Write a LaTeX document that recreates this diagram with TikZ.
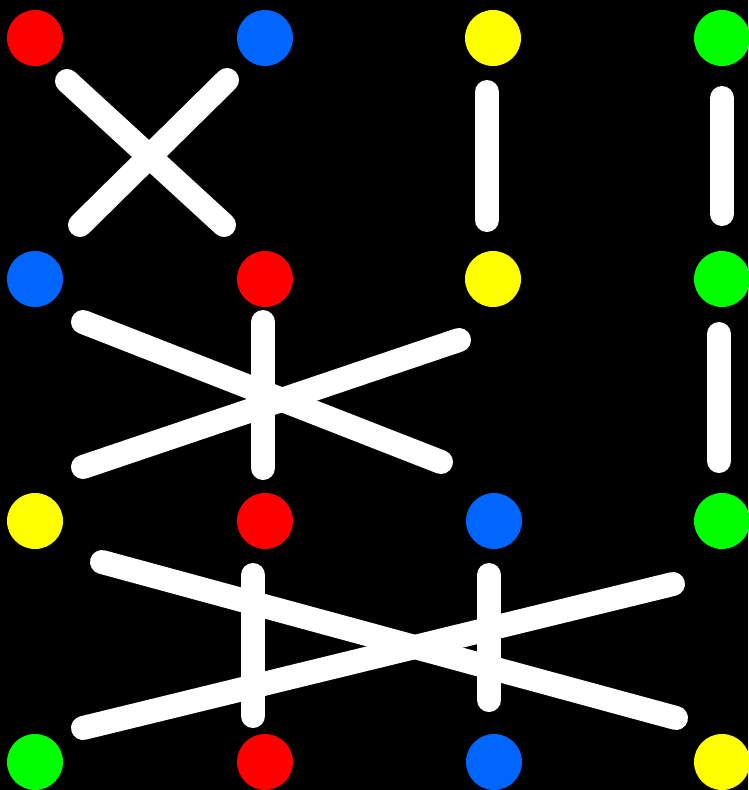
\documentclass[tikz,border=0pt]{standalone}
\definecolor{dred}{RGB}{255,0,0}
\definecolor{dblue}{RGB}{0,102,255}
\definecolor{dyellow}{RGB}{255,255,0}
\definecolor{dgreen}{RGB}{0,255,0}
\begin{document}
\begin{tikzpicture}[x=1pt,y=-1pt,
  dot/.style={circle,inner sep=0pt,minimum size=56pt,fill=#1,draw=none},
  wire/.style={white,line width=24pt,line cap=round}]
\fill[black] (0,0) rectangle (748,790);
\useasboundingbox (0,0) rectangle (748,790);
% row 1
\node[dot=dred]    (r1) at (35,38) {};
\node[dot=dblue]   (b1) at (265,38) {};
\node[dot=dyellow] (y1) at (493,38) {};
\node[dot=dgreen]  (g1) at (722,38) {};
% row 2
\node[dot=dblue]   (b2) at (35,279) {};
\node[dot=dred]    (r2) at (265,279) {};
\node[dot=dyellow] (y2) at (493,279) {};
\node[dot=dgreen]  (g2) at (722,279) {};
% row 3
\node[dot=dyellow] (y3) at (35,521) {};
\node[dot=dred]    (r3) at (265,521) {};
\node[dot=dblue]   (b3) at (494,521) {};
\node[dot=dgreen]  (g3) at (722,521) {};
% row 4
\node[dot=dgreen]  (g4) at (35,762) {};
\node[dot=dred]    (r4) at (265,762) {};
\node[dot=dblue]   (b4) at (494,762) {};
\node[dot=dyellow] (y4) at (722,762) {};
% stage 1
\draw[wire] ([shift={(32,43)}]r1.center) -- ([shift={(-41,-54)}]r2.center);
\draw[wire] ([shift={(-38,42)}]b1.center) -- ([shift={(45,-54)}]b2.center);
\draw[wire] ([shift={(-6,54)}]y1.center) -- ([shift={(-6,-59)}]y2.center);
\draw[wire] ([shift={(0,60)}]g1.center) -- ([shift={(0,-65)}]g2.center);
% stage 2
\draw[wire] ([shift={(48,43)}]b2.center) -- ([shift={(-53,-59)}]b3.center);
\draw[wire] ([shift={(-2,43)}]r2.center) -- ([shift={(-2,-53)}]r3.center);
\draw[wire] ([shift={(-34,61)}]y2.center) -- ([shift={(48,-54)}]y3.center);
\draw[wire] ([shift={(-3,55)}]g2.center) -- ([shift={(-3,-60)}]g3.center);
% stage 3
\draw[wire] ([shift={(67,41)}]y3.center) -- ([shift={(-46,-44)}]y4.center);
\draw[wire] ([shift={(-49,63)}]g3.center) -- ([shift={(48,-34)}]g4.center);
\draw[wire] ([shift={(-12,54)}]r3.center) -- ([shift={(-12,-46)}]r4.center);
\draw[wire] ([shift={(-5,54)}]b3.center) -- ([shift={(-5,-62)}]b4.center);
\end{tikzpicture}
\end{document}
